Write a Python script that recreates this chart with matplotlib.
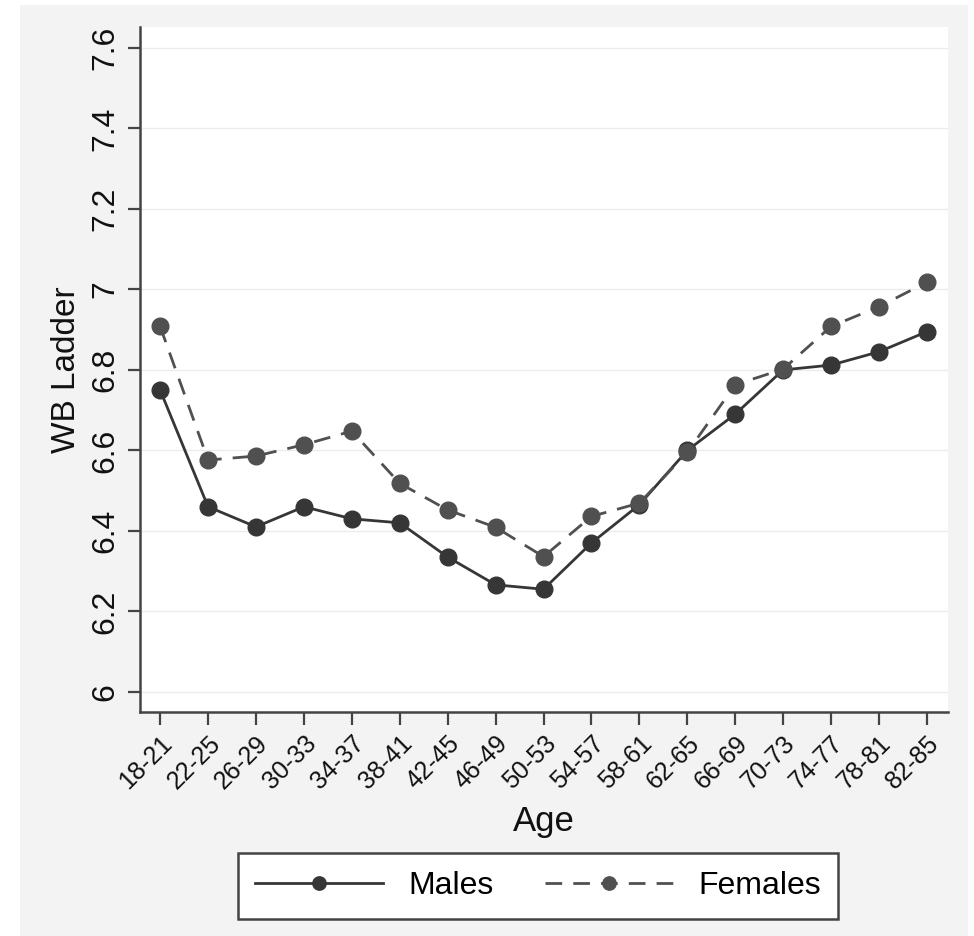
import matplotlib
matplotlib.use("Agg")
import matplotlib.pyplot as plt
from matplotlib.patches import Rectangle

age_groups = ["18-21", "22-25", "26-29", "30-33", "34-37", "38-41", "42-45", "46-49",
              "50-53", "54-57", "58-61", "62-65", "66-69", "70-73", "74-77", "78-81", "82-85"]
males = [6.75, 6.46, 6.41, 6.46, 6.43, 6.42, 6.335, 6.266, 6.255, 6.37,
         6.465, 6.60, 6.69, 6.80, 6.812, 6.845, 6.895]
females = [6.908, 6.576, 6.586, 6.614, 6.648, 6.518, 6.452, 6.409, 6.336, 6.436,
           6.469, 6.595, 6.763, 6.802, 6.908, 6.957, 7.018]
y_ticks = [6, 6.2, 6.4, 6.6, 6.8, 7, 7.2, 7.4, 7.6]
y_tick_labels = ["6", "6.2", "6.4", "6.6", "6.8", "7", "7.2", "7.4", "7.6"]

plt.rcParams["font.family"] = ["Liberation Sans", "DejaVu Sans"]

W, H = 974, 936
fig = plt.figure(figsize=(W / 100, H / 100), dpi=100, facecolor="white")
# light grey graph region, with a thin white margin left/top/right
fig.add_artist(Rectangle((20 / W, 0), 948 / W, 1 - 5 / H, transform=fig.transFigure,
                         facecolor="#f3f3f3", edgecolor="none", zorder=-10))

ax = fig.add_axes([140 / W, 1 - 712 / H, 808 / W, 685 / H])
ax.set_facecolor("white")

x = list(range(len(age_groups)))
ax.plot(x, males, color="#363636", linewidth=2.0, marker="o", markersize=12,
        markerfacecolor="#363636", markeredgecolor="#363636", label="Males", zorder=3)
ax.plot(x, females, color="#505050", linewidth=2.0, dashes=(6, 4), marker="o", markersize=12,
        markerfacecolor="#505050", markeredgecolor="#505050", label="Females", zorder=3)

ax.set_xlim(-0.42, len(age_groups) - 1 + 0.44)
ax.set_ylim(5.95, 7.652)
ax.set_yticks(y_ticks)
ax.set_yticklabels(y_tick_labels, rotation=90, va="center", fontsize=23)
ax.set_xticks(x)
ax.set_xticklabels(age_groups, rotation=45, ha="right", rotation_mode="anchor", fontsize=18)

ax.grid(axis="y", color="#ececec", linewidth=1)
ax.set_axisbelow(True)
for side in ["top", "right"]:
    ax.spines[side].set_visible(False)
for side in ["left", "bottom"]:
    ax.spines[side].set_color("#444444")
    ax.spines[side].set_linewidth(1.8)
ax.tick_params(axis="both", length=9, width=1.6, color="#444444", labelcolor="#111111")
ax.tick_params(axis="y", pad=5)
ax.tick_params(axis="x", pad=5)

ax.set_ylabel("WB Ladder", fontsize=24, color="#111111", labelpad=6)
ax.set_xlabel("Age", fontsize=25, color="#111111", labelpad=8)

leg = fig.legend(loc="center", bbox_to_anchor=(538 / W, 1 - 886 / H), ncol=2, fontsize=23,
                 frameon=True, fancybox=False, edgecolor="#444444", framealpha=1,
                 handlelength=4.0, columnspacing=1.6, borderpad=0.55, handletextpad=0.8,
                 borderaxespad=0, markerscale=0.8)
leg.get_frame().set_linewidth(1.8)

fig.savefig("out.png", dpi=100, facecolor=fig.get_facecolor())
